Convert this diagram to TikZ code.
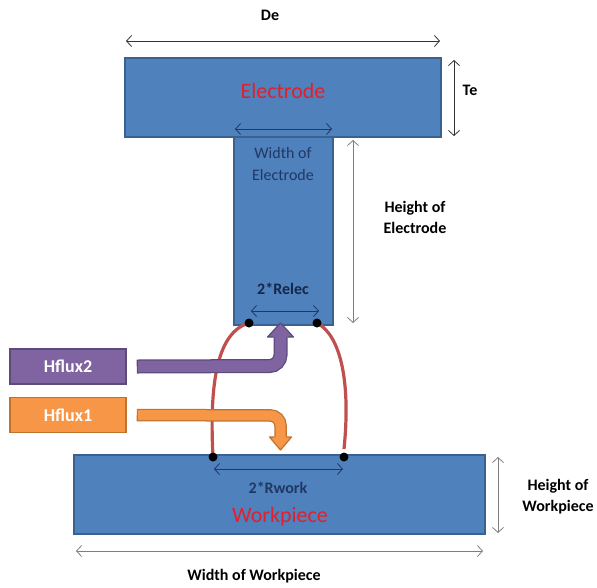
\documentclass[tikz,border=0pt]{standalone}
\usepackage{fontspec}
\setmainfont{Carlito}
\usetikzlibrary{arrows.meta, positioning}
\definecolor{blockblue}{HTML}{4F81BD}
\definecolor{blockedge}{HTML}{3A6291}
\definecolor{fluxpurple}{HTML}{8064A2}
\definecolor{purpleedge}{HTML}{5C4A7A}
\definecolor{fluxorange}{HTML}{F79646}
\definecolor{orangeedge}{HTML}{C0722F}
\definecolor{arcred}{HTML}{C0504D}
\definecolor{labelred}{HTML}{E2202C}
\definecolor{navy}{HTML}{1F3864}
\definecolor{dimgrey}{HTML}{7F7F7F}

\begin{document}
\begin{tikzpicture}[
    x=1pt, y=-1pt,
    block/.style={rectangle, draw=blockedge, fill=blockblue, line width=1.5pt, inner sep=0pt},
    fluxbox/.style={rectangle, line width=1.5pt, minimum width=116pt, minimum height=35pt, text=white, font=\fontsize{18}{21}\selectfont\bfseries},
    contact/.style={circle, fill=black, inner sep=0pt, minimum size=9pt},
    dim/.style={line width=0.8pt, {Straight Barb[length=5pt,width=11pt]}-{Straight Barb[length=5pt,width=11pt]}},
    dimlabel/.style={font=\fontsize{16}{21}\selectfont\bfseries, align=center},
    partlabel/.style={font=\fontsize{22}{26}\selectfont, text=labelred},
    arc/.style={draw=arcred, line width=3.2pt}
]
\useasboundingbox (0,0) rectangle (597,587);

% Nodes
\node (stem) [block, minimum width=99pt, minimum height=188pt] at (283.5,231) {};
\node (plate) [block, minimum width=316pt, minimum height=79pt] at (283,97.5) {};
\node (work) [block, minimum width=411pt, minimum height=79pt] at (279.5,494.5) {};
\node (hflux2) [fluxbox, fill=fluxpurple, draw=purpleedge] at (68,366.5) {Hflux2};
\node (hflux1) [fluxbox, fill=fluxorange, draw=orangeedge] at (68,415) {Hflux1};

\node (elabel) [partlabel] at (283,91) {Electrode};
\node (wlabel) [partlabel] at (280,517) {Workpiece};
\node (de) [dimlabel] at (270,15) {De};
\node (te) [dimlabel] at (470,90) {Te};
\node (welec) [dimlabel, font=\fontsize{16}{22}\selectfont, text=navy] at (283,164) {Width of\\Electrode};
\node (helec) [dimlabel] at (415,217) {Height of\\Electrode};
\node (relec) [dimlabel, text=navy!70!black] at (283,289) {2*Relec};
\node (rwork) [dimlabel, text=navy] at (278,488) {2*Rwork};
\node (hwork) [dimlabel] at (558,497) {Height of\\Workpiece};
\node (wwork) [dimlabel] at (254,576) {Width of Workpiece};

\coordinate (dotEL) at (249,323);
\coordinate (dotER) at (317,323);
\coordinate (dotWL) at (213,457);
\coordinate (dotWR) at (344,457);

% Arcs
\draw [arc] (dotEL) .. controls (218,332) and (209,380) .. (dotWL);
\draw [arc] (dotER) .. controls (340,335) and (351,380) .. (344,449);
\foreach \d in {dotEL,dotER,dotWL,dotWR}
    \node (c-\d) [contact] at (\d) {};

% Heat flux arrows
\draw [line width=14pt, draw=purpleedge, rounded corners=11pt] ([xshift=10pt]hflux2.east) -- (280.5,366) -- (280.5,337);
\draw [line width=11.5pt, draw=fluxpurple, rounded corners=11pt] ([xshift=11.2pt]hflux2.east) -- (280.5,366) -- (280.5,337);
\fill [fluxpurple] (267.5,337) -- (280.5,323) -- (293.5,337) -- cycle;
\draw [purpleedge, line width=1.2pt, line join=round] (273.5,337) -- (267.5,337) -- (280.5,323) -- (293.5,337) -- (287.5,337);

\draw [line width=12.5pt, draw=orangeedge, rounded corners=10pt] ([xshift=10pt]hflux1.east) -- (280.5,415.5) -- (280.5,437);
\draw [line width=10pt, draw=fluxorange, rounded corners=10pt] ([xshift=11.2pt]hflux1.east) -- (280.5,415.5) -- (280.5,437);
\fill [fluxorange] (269.5,437) -- (280.5,450) -- (291.5,437) -- cycle;
\draw [orangeedge, line width=1.2pt, line join=round] (274.5,437) -- (269.5,437) -- (280.5,450) -- (291.5,437) -- (286.5,437);

% Dimensions
\draw [dim, draw=black!80] (126,41) -- (440,41);
\draw [dim, draw=black!80] (454,60) -- (454,136);
\draw [dim, draw=navy] (235,129) -- (332,129);
\draw [dim, draw=dimgrey] (353,140) -- (353,323);
\draw [dim, draw=navy] (251,311) -- (319,311);
\draw [dim, draw=navy] (214,469) -- (343,469);
\draw [dim, draw=dimgrey] (498,457) -- (498,533);
\draw [dim, draw=dimgrey] (76,551) -- (483,551);

\end{tikzpicture}
\end{document}
